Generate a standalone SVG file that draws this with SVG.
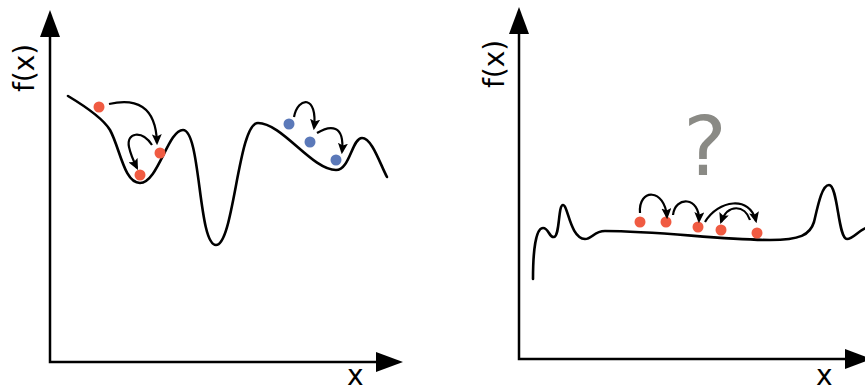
<svg xmlns="http://www.w3.org/2000/svg" width="865" height="392" viewBox="0 0 865 392">
<style>
.axis{fill:none;stroke:#000;stroke-width:2.5}
.head{fill:#000}
.curve{fill:none;stroke:#000;stroke-width:2.6;stroke-linecap:round;stroke-linejoin:round}
.arr{fill:none;stroke:#000;stroke-width:2.2;marker-end:url(#ah)}
.red{fill:#f05b42}
.blue{fill:#5b79b9}
.lbl{font-family:"DejaVu Sans",Verdana,sans-serif;font-size:28px;fill:#000}
.q{font-family:"DejaVu Sans",Verdana,sans-serif;font-size:82px;fill:#8a8a85}
</style>
<defs>
<marker id="ah" viewBox="0 0 10 10" refX="8" refY="5" markerWidth="11" markerHeight="10" markerUnits="userSpaceOnUse" orient="auto" preserveAspectRatio="none">
<path d="M0,0 L10,5 L0,10 L2,5 Z" fill="#000"/>
</marker>
</defs>
<g id="left-panel">
<g id="left-axes">
<path class="axis" d="M50,34 V362 H378"/>
<polygon class="head" points="50,10 40,37 60,37"/>
<polygon class="head" points="403,362 376,352 376,372"/>
<text class="lbl" transform="translate(34,92) rotate(-90)">f(x)</text>
<text class="lbl" x="347" y="385">x</text>
</g>
<path id="left-curve" class="curve" d="M68,96 C88,108 104,120 110,130 C120,148 124,183 140,183 C158,183 168,130 183,130 C201,130 198,245 216,245 C234,245 238,123 258,123 C282,123 312,170 336,170 C350,170 352,138 362,138 C372,138 380,164 387,177"/>
<g id="l-dot1"><circle class="red" cx="99" cy="107" r="5.5"/></g>
<g id="l-dot2"><circle class="red" cx="160" cy="153" r="5.5"/></g>
<g id="l-dot3"><circle class="red" cx="140" cy="175" r="5.5"/></g>
<g id="l-dot4"><circle class="blue" cx="289" cy="124" r="5.5"/></g>
<g id="l-dot5"><circle class="blue" cx="310" cy="142" r="5.5"/></g>
<g id="l-dot6"><circle class="blue" cx="336" cy="160" r="5.5"/></g>
</g>
<g id="right-panel">
<g id="right-axes">
<path class="axis" d="M519,31 V359 H850"/>
<polygon class="head" points="519,7 509,34 529,34"/>
<polygon class="head" points="872,359 845,349 845,369"/>
<text class="lbl" transform="translate(504,88) rotate(-90)">f(x)</text>
<text class="lbl" x="816" y="385">x</text>
</g>
<text id="question" class="q" x="705" y="175" text-anchor="middle">?</text>
<path id="right-curve" class="curve" d="M533,279 C533,250 536,228 543,228 C549,228 549,238 554,237 C560,236 558,205 563,205 C568,205 570,238 585,239 C592,239 594,231 605,231 C660,231 720,240 770,240 C800,240 810,235 814,222 C818,205 822,185 829,185 C838,185 838,239 847,239 C853,239 858,231 866,228"/>
<g id="r-dot1"><circle class="red" cx="640" cy="222" r="5.5"/></g>
<g id="r-dot2"><circle class="red" cx="666" cy="222" r="5.5"/></g>
<g id="r-dot3"><circle class="red" cx="698" cy="227" r="5.5"/></g>
<g id="r-dot4"><circle class="red" cx="721" cy="230" r="5.5"/></g>
<g id="r-dot5"><circle class="red" cx="757" cy="233" r="5.5"/></g>
</g>
<g id="connectors">
<path class="arr" d="M109,104 C135,98 156,105 157,143"/>
<path class="arr" d="M152,145 C142,130 126,132 129,147 C131,156 134,162 137,168"/>
<path class="arr" d="M294,117 C298,96 318,95 314,128"/>
<path class="arr" d="M317,133 C330,125 345,124 342,152"/>
<path class="arr" d="M640,213 C638,188 665,188 667,217"/>
<path class="arr" d="M673,215 C675,196 700,196 699,221"/>
<path class="arr" d="M705,222 C718,200 750,195 756,221"/>
<path class="arr" d="M750,220 C745,205 728,203 721,222"/>
</g>
</svg>
